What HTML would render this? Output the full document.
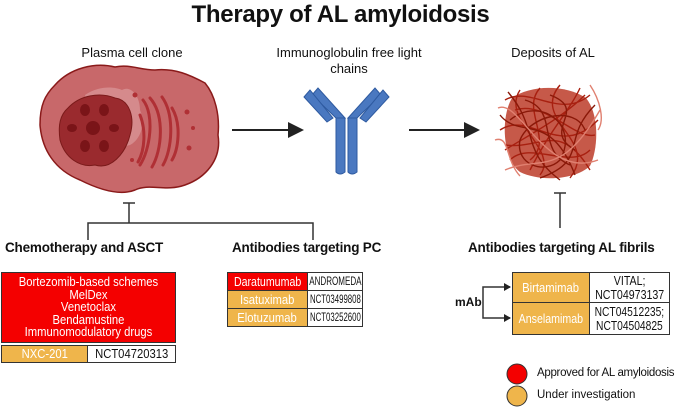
<!DOCTYPE html>
<html><head><style>
body{margin:0;width:681px;height:409px;background:#fff;position:relative;overflow:hidden;font-family:"Liberation Sans",sans-serif;color:#111}
.a{position:absolute;white-space:nowrap}
.h{font-weight:bold;font-size:13.5px;letter-spacing:-0.2px}
.l{font-size:13px;text-align:center}
.c{position:absolute;box-sizing:border-box;border:1px solid #333;display:flex;align-items:center;justify-content:center;text-align:center;font-size:12.5px;line-height:14px;overflow:hidden}
.c span{display:inline-block;transform:scaleX(0.9);white-space:nowrap}
.r{background:#f40000;color:#fff}.o{background:#efb54b;color:#fff}.w{background:#fff;color:#111}
</style></head><body>
<div class="a" style="left:0;width:681px;top:1px;text-align:center;font-weight:bold;font-size:24px;letter-spacing:-0.3px">Therapy of AL amyloidosis</div>
<div class="a l" style="left:72px;width:120px;top:45px">Plasma cell clone</div>
<div class="a l" style="left:249px;width:200px;top:45px;line-height:16px">Immunoglobulin free light<br>chains</div>
<div class="a l" style="left:493px;width:120px;top:45px">Deposits of AL</div>

<svg width="681" height="409" style="position:absolute;left:0;top:0">
<defs><marker id="ar" markerWidth="8" markerHeight="8" refX="6" refY="4" orient="auto"><path d="M0,0L8,4L0,8z" fill="#222"/></marker></defs>
<path d="M55,85 C70,68 95,62 115,67 C130,64 140,70 155,70 C175,68 190,75 205,83 C215,95 220,115 218,135 C222,160 205,178 185,185 C165,192 150,183 135,190 C120,196 100,190 80,180 C55,170 42,150 40,125 C40,105 45,95 55,85z" fill="#c8686a" stroke="#8a1a1a" stroke-width="1.5"/>
<path d="M85,95 C100,85 115,87 122,90 C130,85 140,95 140,110 C146,125 140,140 130,145 C110,150 95,140 90,120z" fill="#d58a8c"/>
<path d="M68,108 C80,95 100,92 115,98 C130,100 135,118 130,135 C125,155 110,170 95,165 C80,168 65,158 60,140 C58,125 60,115 68,108z" fill="#9a2a2e" stroke="#7a1a1a" stroke-width="1"/>
<circle cx="93" cy="128" r="7" fill="#7a1418"/>
<g fill="#7a1418"><ellipse cx="85" cy="110" rx="5" ry="6"/><ellipse cx="104" cy="110" rx="5" ry="6"/><ellipse cx="72" cy="128" rx="5" ry="4"/><ellipse cx="114" cy="128" rx="5" ry="4"/><ellipse cx="85" cy="146" rx="5" ry="6"/><ellipse cx="104" cy="146" rx="5" ry="6"/></g>
<g stroke="#b03035" stroke-width="3" fill="none" stroke-linecap="round"><path d="M143,100 C155,115 150,150 140,165"/><path d="M150,98 C165,115 162,150 152,167"/><path d="M162,97 C175,115 172,150 163,165"/><path d="M172,108 C182,125 178,150 172,160"/><path d="M140,115 C146,130 145,150 138,162"/></g>
<g fill="#b03035"><circle cx="135" cy="95" r="2.5"/><circle cx="187" cy="112" r="2.5"/><circle cx="193" cy="128" r="2"/><circle cx="132" cy="160" r="2"/><circle cx="189" cy="148" r="2.5"/></g>
<line x1="232" y1="130" x2="300" y2="130" stroke="#222" stroke-width="2" marker-end="url(#ar)"/>
<line x1="409" y1="130" x2="476" y2="130" stroke="#222" stroke-width="2" marker-end="url(#ar)"/>
<g fill="#4a78c0" stroke="#2e5aa0" stroke-width="1">
<path d="M336,118 L345,118 L345,172 Q340,176 336,172z"/><path d="M348,118 L357,118 L357,172 Q352,176 348,172z"/>
<path d="M336,118 L312,95 L318,88 L345,118z"/><path d="M357,118 L381,95 L375,88 L348,118z"/>
<path d="M304,97 L310,90 L333,118 L327,122z"/><path d="M389,97 L383,90 L360,118 L366,122z"/>
</g>
<path d="M512,98 C530,85 565,84 586,98 C600,115 598,150 590,166 C575,180 540,182 520,172 C503,160 500,118 512,98z" fill="#b8301c" opacity="0.8"/>
<g fill="none" stroke="#a82010" stroke-width="1.4">
<path d="M505,100 C530,85 560,120 590,95 M500,130 C530,110 560,160 598,120 M510,160 C530,140 570,170 590,150 M520,90 C500,120 560,150 540,175 M560,85 C530,120 600,140 570,178 M585,95 C560,120 520,140 505,150 M515,110 C545,100 575,140 595,135 M530,170 C550,130 570,110 580,88 M505,145 C540,150 560,120 590,170 M540,88 C520,110 555,140 530,160"/>
<path d="M510,120 C540,95 580,125 560,160 C545,175 515,165 520,140 C530,115 575,105 585,130 M525,100 C560,110 535,150 570,165 M550,95 C590,110 540,130 575,150 M500,115 C520,140 550,110 575,175 M508,92 C540,130 520,150 560,180 M595,105 C560,140 590,160 540,178" stroke="#8a1808"/>
<path d="M498,108 C520,98 545,180 598,160 M505,170 C540,155 560,180 600,110 M495,140 C510,135 505,160 520,176 M590,85 C600,100 605,120 598,130" stroke="#e08070"/>
</g>
<g stroke="#333" stroke-width="1.5" fill="none">
<line x1="123" y1="203" x2="135" y2="203"/><line x1="129" y1="203" x2="129" y2="223"/>
<polyline points="88,240 88,223 313,223 313,240"/>
<line x1="554" y1="193" x2="566" y2="193"/><line x1="560" y1="193" x2="560" y2="228"/>
<polyline points="510,287 483,287 483,318 510,318"/>
</g>
<path d="M504,283L511,287L504,291z M504,314L511,318L504,322z" fill="#222"/>
<circle cx="517" cy="374" r="10" fill="#f40000" stroke="#333"/>
<circle cx="517" cy="396" r="10" fill="#efb54b" stroke="#333"/>
</svg>

<div class="a h" style="left:5px;top:240px">Chemotherapy and ASCT</div>
<div class="a h" style="left:232px;top:240px">Antibodies targeting PC</div>
<div class="a h" style="left:468px;top:240px">Antibodies targeting AL fibrils</div>

<div class="c r" style="left:1px;top:272px;width:175px;height:71px;line-height:12.4px"><span>Bortezomib-based schemes<br>MelDex<br>Venetoclax<br>Bendamustine<br>Immunomodulatory drugs</span></div>
<div class="c o" style="left:1px;top:345px;width:87px;height:18px"><span>NXC-201</span></div>
<div class="c w" style="left:87px;top:345px;width:89px;height:18px"><span>NCT04720313</span></div>

<div class="c r" style="left:227px;top:272px;width:81px;height:19px"><span style="transform:scaleX(0.85)">Daratumumab</span></div>
<div class="c w" style="left:307px;top:272px;width:56px;height:19px;font-size:11.5px"><span style="transform:scaleX(0.7)">ANDROMEDA</span></div>
<div class="c o" style="left:227px;top:290px;width:81px;height:19px"><span>Isatuximab</span></div>
<div class="c w" style="left:307px;top:290px;width:56px;height:19px;font-size:11.5px"><span style="transform:scaleX(0.68)">NCT03499808</span></div>
<div class="c o" style="left:227px;top:308px;width:81px;height:19px"><span>Elotuzumab</span></div>
<div class="c w" style="left:307px;top:308px;width:56px;height:19px;font-size:11.5px"><span style="transform:scaleX(0.68)">NCT03252600</span></div>

<div class="a" style="left:455px;top:295px;font-weight:bold;font-size:12px">mAb</div>
<div class="c o" style="left:512px;top:272px;width:78px;height:31px"><span>Birtamimab</span></div>
<div class="c w" style="left:589px;top:272px;width:81px;height:31px"><span style="transform:scaleX(0.85)">VITAL;<br>NCT04973137</span></div>
<div class="c o" style="left:512px;top:302px;width:78px;height:33px"><span style="transform:scaleX(0.85)">Anselamimab</span></div>
<div class="c w" style="left:589px;top:302px;width:81px;height:33px"><span style="transform:scaleX(0.82)">NCT04512235;<br>NCT04504825</span></div>

<div class="a" style="left:537px;top:367px;font-size:11.5px;letter-spacing:-0.3px">Approved for AL amyloidosis</div>
<div class="a" style="left:537px;top:389px;font-size:11.5px">Under investigation</div>
</body></html>
